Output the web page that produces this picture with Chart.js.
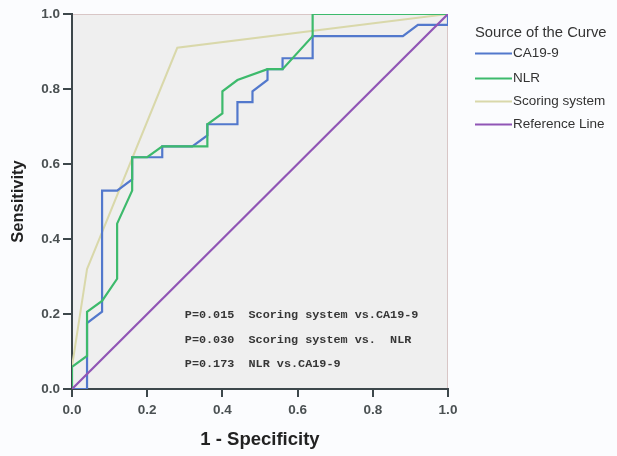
<!DOCTYPE html>
<html>
<head>
<meta charset="utf-8">
<script src="https://cdn.jsdelivr.net/npm/chart.js@4"></script>
<style>
  html, body { margin: 0; padding: 0; background: #fbfcfe; }
  #wrap { position: relative; width: 617px; height: 456px; }
</style>
</head>
<body>
<div id="wrap"><canvas id="c" width="617" height="456"></canvas></div>
<script>
// ---- data ----
const seriesNames = ['CA19-9', 'NLR', 'Scoring system', 'Reference Line'];
const seriesColors = ['#5278cc', '#3dba6c', '#d9d8aa', '#9055b5'];

const ca199Fpr = [0, 0.04, 0.04, 0.08, 0.08, 0.12, 0.16, 0.16, 0.24, 0.24, 0.32, 0.36, 0.36, 0.44, 0.44, 0.48, 0.48, 0.52, 0.52, 0.56, 0.56, 0.64, 0.64, 0.88, 0.92, 1.0, 1.0];
const ca199Tpr = [0, 0, 0.176, 0.206, 0.529, 0.529, 0.559, 0.618, 0.618, 0.647, 0.647, 0.676, 0.706, 0.706, 0.765, 0.765, 0.794, 0.824, 0.853, 0.853, 0.882, 0.882, 0.941, 0.941, 0.971, 0.971, 1.0];

const nlrFpr = [0, 0, 0.04, 0.04, 0.08, 0.12, 0.12, 0.16, 0.16, 0.20, 0.24, 0.36, 0.36, 0.40, 0.40, 0.44, 0.52, 0.56, 0.64, 0.64, 1.0];
const nlrTpr = [0, 0.059, 0.088, 0.206, 0.235, 0.294, 0.441, 0.529, 0.618, 0.618, 0.647, 0.647, 0.706, 0.735, 0.794, 0.824, 0.853, 0.853, 0.941, 1.0, 1.0];

const scoreFpr = [0, 0, 0.04, 0.28, 1.0];
const scoreTpr = [0, 0.06, 0.32, 0.91, 1.0];

const refFpr = [0, 1];
const refTpr = [0, 1];

const axisTicks = [0, 0.2, 0.4, 0.6, 0.8, 1.0];
const tickLabels = ['0.0', '0.2', '0.4', '0.6', '0.8', '1.0'];

const noteLines = [
  'P=0.015  Scoring system vs.CA19-9',
  'P=0.030  Scoring system vs.  NLR',
  'P=0.173  NLR vs.CA19-9'
];
const noteX = 0.30;
const noteY = [0.197, 0.131, 0.066];

// ---- build chart ----
function pts(xs, ys) { return xs.map((x, i) => ({ x: x, y: ys[i] })); }
const seriesX = [ca199Fpr, nlrFpr, scoreFpr, refFpr];
const seriesY = [ca199Tpr, nlrTpr, scoreTpr, refTpr];
const drawOrder = [2, 1, 3, 0]; // lower = drawn on top

const datasets = seriesNames.map((name, i) => ({
  label: name,
  data: pts(seriesX[i], seriesY[i]),
  showLine: true,
  borderColor: seriesColors[i],
  backgroundColor: seriesColors[i],
  borderWidth: i === 2 ? 2 : 2.2,
  pointRadius: 0,
  tension: 0,
  fill: false,
  order: drawOrder[i]
}));

const plotBg = {
  id: 'plotBg',
  beforeDraw(chart) {
    const { ctx, chartArea: a } = chart;
    ctx.save();
    ctx.fillStyle = '#efefef';
    ctx.fillRect(a.left, a.top, a.right - a.left, a.bottom - a.top);
    ctx.strokeStyle = '#d8c6c6';
    ctx.lineWidth = 1;
    ctx.beginPath();
    ctx.moveTo(a.left, a.top + 0.5);
    ctx.lineTo(a.right - 0.5, a.top + 0.5);
    ctx.lineTo(a.right - 0.5, a.bottom);
    ctx.stroke();
    ctx.restore();
  }
};

const extras = {
  id: 'extras',
  afterDraw(chart) {
    const { ctx } = chart;
    const xs = chart.scales.x, ys = chart.scales.y;
    ctx.save();
    // annotations
    ctx.font = 'bold 11.8px "Liberation Mono", "DejaVu Sans Mono", monospace';
    ctx.fillStyle = '#363636';
    ctx.textBaseline = 'middle';
    ctx.textAlign = 'left';
    noteLines.forEach((t, i) => {
      ctx.fillText(t, xs.getPixelForValue(noteX), ys.getPixelForValue(noteY[i]));
    });
    // legend
    const lx = 475, ly0 = 33;
    ctx.font = '14.8px "Liberation Sans", Arial, sans-serif';
    ctx.fillStyle = '#333';
    ctx.fillText('Source of the Curve', lx, ly0);
    ctx.font = '13.5px "Liberation Sans", Arial, sans-serif';
    const itemY = [53, 78, 101, 124];
    seriesNames.forEach((n, i) => {
      const y = itemY[i];
      ctx.strokeStyle = seriesColors[i];
      ctx.lineWidth = 2;
      ctx.beginPath();
      ctx.moveTo(lx, y + 0.5);
      ctx.lineTo(lx + 37, y + 0.5);
      ctx.stroke();
      ctx.fillStyle = '#333';
      ctx.fillText(n, lx + 38, y);
    });
    ctx.restore();
  }
};

const axisColor = '#3d474b';
const tickFont = { family: '"Liberation Sans", Arial, sans-serif', size: 13.5, weight: 'bold' };

new Chart(document.getElementById('c'), {
  type: 'scatter',
  data: { datasets: datasets },
  plugins: [plotBg, extras],
  options: {
    responsive: false,
    animation: false,
    events: [],
    layout: { padding: { top: 14, right: 169, left: 0, bottom: 0 } },
    plugins: { legend: { display: false }, tooltip: { enabled: false } },
    scales: {
      x: {
        type: 'linear', min: 0, max: 1,
        afterFit(s) { s.height = 67; },
        afterBuildTicks(s) { s.ticks = axisTicks.map(v => ({ value: v })); },
        ticks: {
          callback: (v) => tickLabels[axisTicks.indexOf(v)] ?? '',
          font: tickFont, color: '#4a5052', padding: 5, maxRotation: 0
        },
        grid: { drawOnChartArea: false, drawTicks: true, tickLength: 8, color: axisColor, lineWidth: 2 },
        border: { display: true, color: axisColor, width: 2 },
        title: { display: true, text: '1 - Specificity', font: { family: '"Liberation Sans", Arial, sans-serif', size: 18.5, weight: 'bold' }, color: '#222', padding: { top: 0, bottom: 5 } }
      },
      y: {
        type: 'linear', min: 0, max: 1,
        afterFit(s) { s.width = 72; },
        afterBuildTicks(s) { s.ticks = axisTicks.map(v => ({ value: v })); },
        ticks: {
          callback: (v) => tickLabels[axisTicks.indexOf(v)] ?? '',
          font: tickFont, color: '#4a5052', padding: 3
        },
        grid: { drawOnChartArea: false, drawTicks: true, tickLength: 9, color: axisColor, lineWidth: 2 },
        border: { display: true, color: axisColor, width: 2 },
        title: { display: true, text: 'Sensitivity', font: { family: '"Liberation Sans", Arial, sans-serif', size: 16.5, weight: 'bold' }, color: '#222', padding: { top: 9, bottom: 0 } }
      }
    }
  }
});
</script>
</body>
</html>
